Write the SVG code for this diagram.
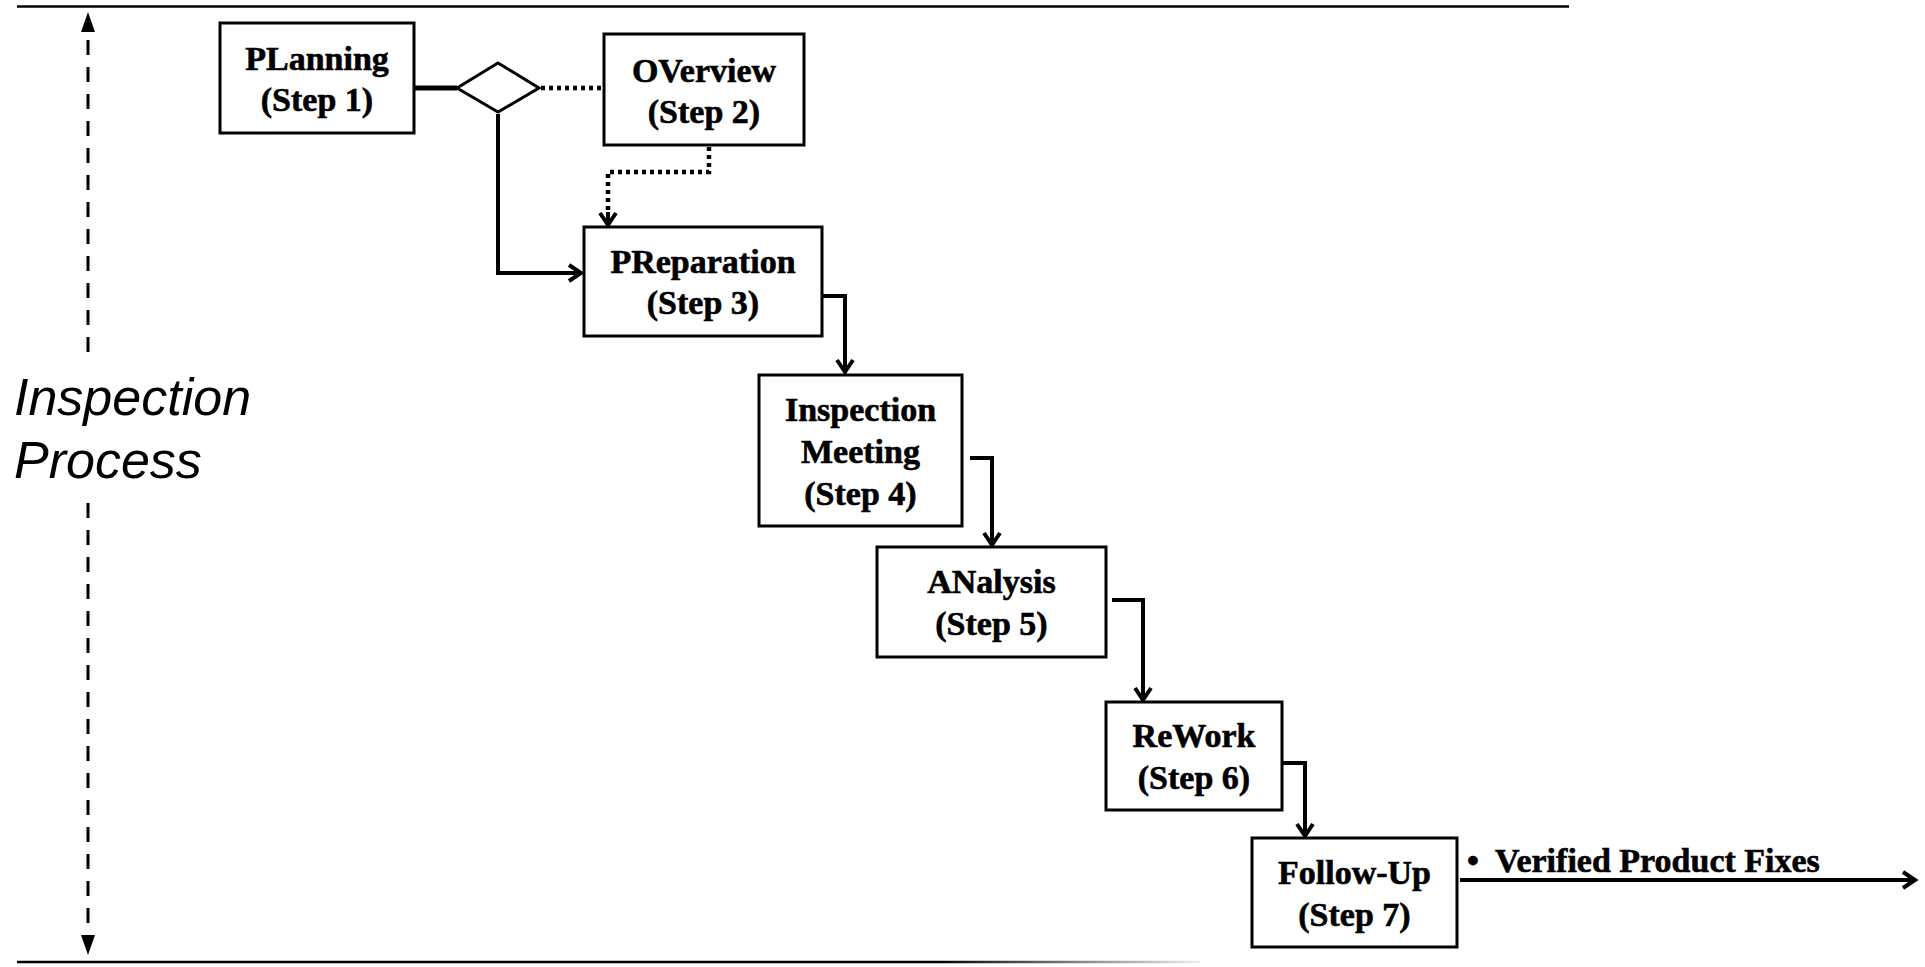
<svg xmlns="http://www.w3.org/2000/svg" width="1925" height="967" viewBox="0 0 1925 967">
  <style>
    .box { fill: #fff; stroke: #000; stroke-width: 3; }
    .lbl { font-family: "Liberation Serif", "Times New Roman", serif; font-weight: bold; font-size: 34px; fill: #000; stroke: #000; stroke-width: 0.6; text-anchor: middle; }
    .side { font-family: "Liberation Sans", Arial, sans-serif; font-style: italic; font-size: 52px; fill: #000; }
    .con { fill: none; stroke: #000; stroke-width: 4; stroke-linejoin: miter; }
    .dot { fill: none; stroke: #000; stroke-width: 4.5; stroke-dasharray: 4 4; }
  </style>
  <defs>
    <marker id="chev" markerUnits="userSpaceOnUse" viewBox="0 0 16 20" markerWidth="16" markerHeight="20" refX="13" refY="10" orient="auto" overflow="visible">
      <path d="M1,2 L13,10 L1,18" fill="none" stroke="#000" stroke-width="4"/>
    </marker>
    <marker id="tri" markerUnits="userSpaceOnUse" viewBox="0 0 20 14" markerWidth="20" markerHeight="14" refX="0" refY="7" orient="auto-start-reverse">
      <path d="M0,0 L20,7 L0,14 Z" fill="#000"/>
    </marker>
    <linearGradient id="fade" gradientUnits="userSpaceOnUse" x1="17" y1="0" x2="1200" y2="0">
      <stop offset="0" stop-color="#000"/>
      <stop offset="0.78" stop-color="#000"/>
      <stop offset="0.9" stop-color="#888"/>
      <stop offset="1" stop-color="#eee"/>
    </linearGradient>
  </defs>

  <g id="frame">
    <line x1="17" y1="6.5" x2="1569" y2="6.5" stroke="#000" stroke-width="2.5"/>
    <line x1="17" y1="962" x2="1200" y2="962" stroke="url(#fade)" stroke-width="2.5"/>
    <path d="M88,32 L88,362" fill="none" stroke="#000" stroke-width="3" stroke-dasharray="15 12" stroke-dashoffset="19" marker-start="url(#tri)"/>
    <path d="M88,503 L88,935" fill="none" stroke="#000" stroke-width="3" stroke-dasharray="15 12" marker-end="url(#tri)"/>
    <text class="side" x="14" y="415">Inspection</text>
    <text class="side" x="14" y="478">Process</text>
  </g>

  <g id="connectors">
    <line x1="404" y1="88" x2="457" y2="88" stroke="#000" stroke-width="5"/>
    <line class="dot" x1="541" y1="88" x2="604" y2="88"/>
    <path class="con" d="M498,114 L498,273 L581,273" marker-end="url(#chev)"/>
    <path class="dot" d="M709,147 L709,172 L608,172 L608,212"/>
    <path class="con" d="M608,212 L608,225" marker-end="url(#chev)" stroke-width="3"/>
    <path class="con" d="M822,296 L845,296 L845,372" marker-end="url(#chev)"/>
    <path class="con" d="M970,458 L992,458 L992,545" marker-end="url(#chev)"/>
    <path class="con" d="M1112,600 L1143,600 L1143,700" marker-end="url(#chev)"/>
    <path class="con" d="M1282,763 L1305,763 L1305,836" marker-end="url(#chev)"/>
    <path class="con" d="M1460,880 L1915,880" marker-end="url(#chev)"/>
  </g>

  <g id="decision">
    <polygon points="457,88 498,63 539,88 498,112" fill="#fff" stroke="#000" stroke-width="3"/>
  </g>

  <g id="planning">
    <rect class="box" x="220" y="23" width="194" height="110"/>
    <text class="lbl" x="317" y="70">PLanning</text>
    <text class="lbl" x="317" y="111">(Step 1)</text>
  </g>
  <g id="overview">
    <rect class="box" x="604" y="34" width="200" height="111"/>
    <text class="lbl" x="704" y="82">OVerview</text>
    <text class="lbl" x="704" y="123">(Step 2)</text>
  </g>
  <g id="preparation">
    <rect class="box" x="584" y="227" width="238" height="109"/>
    <text class="lbl" x="703" y="273">PReparation</text>
    <text class="lbl" x="703" y="314">(Step 3)</text>
  </g>
  <g id="meeting">
    <rect class="box" x="759" y="375" width="203" height="151"/>
    <text class="lbl" x="860.5" y="421">Inspection</text>
    <text class="lbl" x="860.5" y="463">Meeting</text>
    <text class="lbl" x="860.5" y="505">(Step 4)</text>
  </g>
  <g id="analysis">
    <rect class="box" x="877" y="547" width="229" height="110"/>
    <text class="lbl" x="991.5" y="593">ANalysis</text>
    <text class="lbl" x="991.5" y="635">(Step 5)</text>
  </g>
  <g id="rework">
    <rect class="box" x="1106" y="702" width="176" height="108"/>
    <text class="lbl" x="1194" y="747">ReWork</text>
    <text class="lbl" x="1194" y="789">(Step 6)</text>
  </g>
  <g id="followup">
    <rect class="box" x="1252" y="838" width="205" height="109"/>
    <text class="lbl" x="1354.5" y="884">Follow-Up</text>
    <text class="lbl" x="1354.5" y="926">(Step 7)</text>
  </g>
  <g id="output">
    <text class="lbl" style="text-anchor:start" x="1467" y="872">•<tspan x="1495">Verified Product Fixes</tspan></text>
  </g>
</svg>
